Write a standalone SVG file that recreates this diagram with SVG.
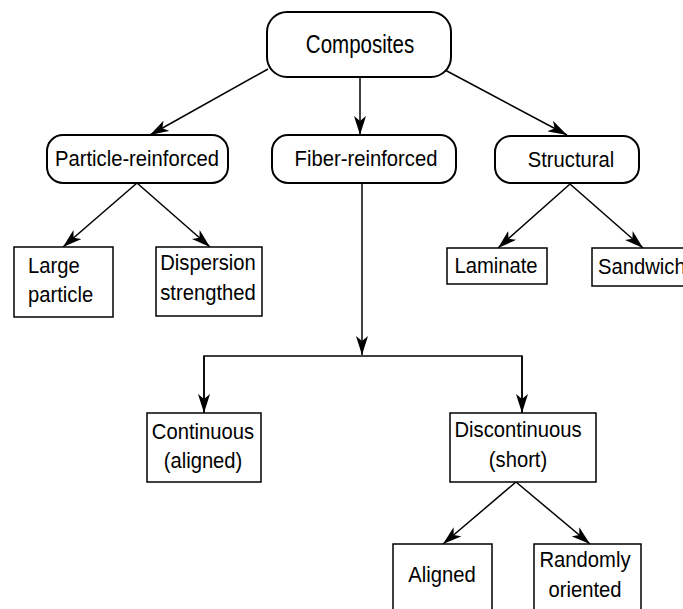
<svg xmlns="http://www.w3.org/2000/svg" width="683" height="609" viewBox="0 0 683 609">
<defs>
<style>
.rb{fill:#fff;stroke:#000;stroke-width:2}
.bx{fill:#fff;stroke:#000;stroke-width:1.5}
.t{font-family:"Liberation Sans",Arial,sans-serif;font-size:22px;fill:#000;text-anchor:middle}
.s{text-anchor:start}
.c{fill:none;stroke:#000;stroke-width:1.5}
</style>
<marker id="ah" markerUnits="userSpaceOnUse" viewBox="0 0 19 12" refX="19" refY="6" markerWidth="19" markerHeight="12" orient="auto">
<path d="M0,0 L19,6 L0,12 L5,6 z" fill="#000"/>
</marker>
</defs>
<rect width="683" height="609" fill="#fff"/>
<g id="connectors">
<line class="c" x1="268" y1="69" x2="150" y2="135" marker-end="url(#ah)"/>
<line class="c" x1="360" y1="77" x2="360" y2="135" marker-end="url(#ah)"/>
<line class="c" x1="445" y1="70" x2="567" y2="135" marker-end="url(#ah)"/>
<line class="c" x1="137" y1="183" x2="63" y2="247" marker-end="url(#ah)"/>
<line class="c" x1="137" y1="183" x2="210" y2="247" marker-end="url(#ah)"/>
<line class="c" x1="570" y1="184" x2="498" y2="248" marker-end="url(#ah)"/>
<line class="c" x1="570" y1="184" x2="643" y2="248" marker-end="url(#ah)"/>
<line class="c" x1="362" y1="183" x2="362" y2="355" marker-end="url(#ah)"/>
<polyline class="c" points="204,413 204,356 522,356 522,413"/>
<line class="c" x1="204" y1="356" x2="204" y2="413" marker-end="url(#ah)"/>
<line class="c" x1="522" y1="356" x2="522" y2="413" marker-end="url(#ah)"/>
<line class="c" x1="516" y1="482" x2="443" y2="544" marker-end="url(#ah)"/>
<line class="c" x1="516" y1="482" x2="590" y2="544" marker-end="url(#ah)"/>
</g>
<g id="composites">
<rect class="rb" x="267" y="12" width="184" height="65" rx="20" ry="20"/>
<text class="t" transform="translate(360,53) scale(0.79,1)" style="font-size:26px">Composites</text>
</g>
<g id="particle">
<rect class="rb" x="47" y="135" width="181" height="48" rx="16" ry="16"/>
<text class="t" transform="translate(137,166) scale(0.92,1)">Particle-reinforced</text>
</g>
<g id="fiber">
<rect class="rb" x="272" y="135" width="184" height="48" rx="16" ry="16"/>
<text class="t" transform="translate(366,166) scale(0.92,1)">Fiber-reinforced</text>
</g>
<g id="structural">
<rect class="rb" x="495" y="136" width="144" height="47" rx="16" ry="16"/>
<text class="t" transform="translate(571,167) scale(0.92,1)">Structural</text>
</g>
<g id="large">
<rect class="bx" x="14" y="247" width="99" height="70"/>
<text class="t s" transform="translate(28,273) scale(0.92,1)">Large</text>
<text class="t s" transform="translate(28,302) scale(0.92,1)">particle</text>
</g>
<g id="dispersion">
<rect class="bx" x="156" y="247" width="106" height="69"/>
<text class="t" transform="translate(208,270) scale(0.92,1)">Dispersion</text>
<text class="t" transform="translate(208,300) scale(0.92,1)">strengthed</text>
</g>
<g id="laminate">
<rect class="bx" x="447" y="248" width="100" height="36"/>
<text class="t" transform="translate(496,273) scale(0.92,1)">Laminate</text>
</g>
<g id="sandwich">
<rect class="bx" x="592" y="248" width="100" height="38"/>
<text class="t s" transform="translate(598,274) scale(0.92,1)">Sandwich</text>
</g>
<g id="continuous">
<rect class="bx" x="147" y="413" width="114" height="69"/>
<text class="t" transform="translate(203,439) scale(0.92,1)">Continuous</text>
<text class="t" transform="translate(203,468) scale(0.92,1)">(aligned)</text>
</g>
<g id="discontinuous">
<rect class="bx" x="450" y="413" width="146" height="69"/>
<text class="t" transform="translate(518,437) scale(0.92,1)">Discontinuous</text>
<text class="t" transform="translate(518,467) scale(0.92,1)">(short)</text>
</g>
<g id="aligned">
<rect class="bx" x="393" y="544" width="99" height="75"/>
<text class="t" transform="translate(442,582) scale(0.92,1)">Aligned</text>
</g>
<g id="random">
<rect class="bx" x="534" y="544" width="107" height="75"/>
<text class="t" transform="translate(585,567) scale(0.92,1)">Randomly</text>
<text class="t" transform="translate(585,597) scale(0.92,1)">oriented</text>
</g>
</svg>
